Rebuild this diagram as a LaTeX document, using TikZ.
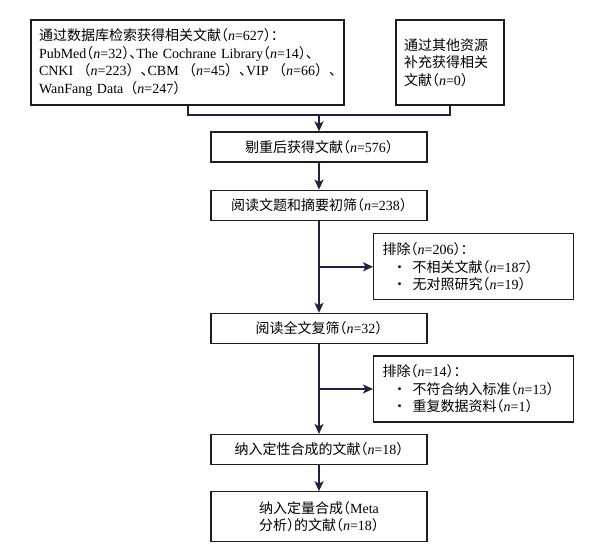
\documentclass[tikz,border=0pt]{standalone}
\usepackage{fontspec}
\setmainfont{Liberation Serif}
\newfontfamily\cjk{Noto Sans CJK SC}
\newfontfamily\cjkhalf[RawFeature=+halt]{Noto Sans CJK SC}
\usepackage{tikz}
\usetikzlibrary{arrows.meta, positioning, calc}
\definecolor{mynavy}{RGB}{36,32,66}
\definecolor{myblack}{RGB}{30,28,30}
\newcommand{\zh}[1]{{\cjk #1}}
\newcommand{\zp}[1]{{\cjkhalf #1}}
\newcommand{\nv}[1]{\textit{n}=#1}
\newcommand{\lp}{\zp{（}}
\newcommand{\rp}{\zp{）}}
\newcommand{\bul}{\hspace*{10pt}\makebox[20pt][l]{\cjk ·}}
\tikzset{
  srcbox/.style={rectangle, draw=myblack, line width=1.2pt, inner xsep=8pt,
    align=left, minimum height=85pt, font=\fontsize{14}{17.5}\selectfont},
  block/.style={rectangle, draw=myblack, line width=1.2pt, minimum width=216pt,
    minimum height=30pt, align=center, font=\fontsize{14}{17.5}\selectfont},
  exbox/.style={rectangle, draw=myblack, line width=1.2pt, text width=182pt,
    inner xsep=9pt, minimum height=66pt, align=left,
    font=\fontsize{14}{17.5}\selectfont},
  arrow/.style={-{Stealth[length=10pt, width=9pt, inset=2.5pt]}, line width=2pt, color=mynavy},
  line/.style={line width=2pt, color=mynavy}
}
\begin{document}
\begin{tikzpicture}[x=1pt, y=-1pt]
  \useasboundingbox (0,0) rectangle (594,545);

  \node[srcbox, text width=297pt] (db) at (187.5,62.5)
    {\mbox{\zh{通过数据库检索获得相关文献}\lp\nv{627}\rp\zp{：}}\\
     \mbox{PubMed\lp\nv{32}\rp\zp{、}The Cochrane Library\lp\nv{14}\rp\zp{、}}\\
     \makebox[297pt][l]{CNKI\hfill\zh{（}\nv{223}\zh{）}\zp{、}CBM\hfill\zh{（}\nv{45}\zh{）}\zp{、}VIP\hfill\zh{（}\nv{66}\zh{）}\zp{、}}\\
     \mbox{WanFang Data\zh{（}\nv{247}\zh{）}}};
  \node[srcbox, text width=92pt] (other) at (450,62.5)
    {\zh{通过其他资源}\\\zh{补充获得相关}\\\zh{文献}\lp\nv{0}\rp};

  \node[block] (dedup) at (319,147) {\zh{剔重后获得文献}\lp\nv{576}\rp};
  \coordinate[above=16pt of dedup] (junc);
  \draw[line] (db.south) |- (junc) -| (other.south);
  \draw[arrow] (junc) -- (dedup);

  \node[block, below=27pt of dedup] (title) {\zh{阅读文题和摘要初筛}\lp\nv{238}\rp};
  \node[block, below=92pt of title] (full) {\zh{阅读全文复筛}\lp\nv{32}\rp};
  \node[block, below=90pt of full] (qual) {\zh{纳入定性合成的文献}\lp\nv{18}\rp};
  \node[block, below=26pt of qual, minimum height=50pt] (quant)
    {\zh{纳入定量合成}\lp Meta\\\zh{分析}\rp\zh{的文献}\lp\nv{18}\rp};

  \coordinate (br1) at ($(title.south)!0.5!(full.north)$);
  \coordinate (br2) at ($(full.south)!0.5!(qual.north)$);
  \node[exbox, right=54pt of br1] (ex1)
    {\zh{排除}\lp\nv{206}\rp\zp{：}\\
     \bul\zh{不相关文献}\lp\nv{187}\rp\\
     \bul\zh{无对照研究}\lp\nv{19}\rp};
  \node[exbox, right=54pt of br2] (ex2)
    {\zh{排除}\lp\nv{14}\rp\zp{：}\\
     \bul\zh{不符合纳入标准}\lp\nv{13}\rp\\
     \bul\zh{重复数据资料}\lp\nv{1}\rp};

  \draw[arrow] (dedup) -- (title);
  \draw[arrow] (title) -- (full);
  \draw[arrow] (br1) -- (ex1);
  \draw[arrow] (full) -- (qual);
  \draw[arrow] (br2) -- (ex2);
  \draw[arrow] (qual) -- (quant);
\end{tikzpicture}
\end{document}
